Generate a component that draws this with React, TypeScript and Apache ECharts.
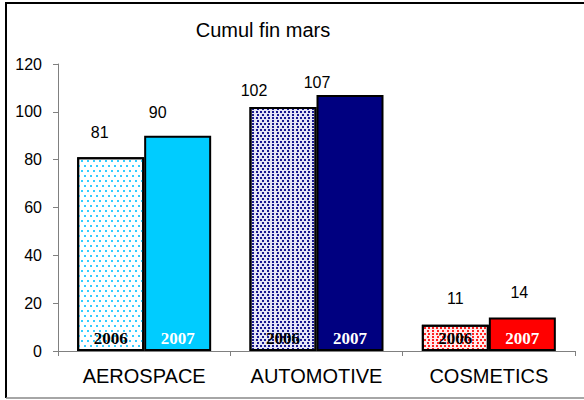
import React, { useEffect, useRef } from "react";
import * as echarts from "echarts";

const categories = ["AEROSPACE", "AUTOMOTIVE", "COSMETICS"];
const values2006 = [81, 102, 11];
const values2007 = [90, 107, 14];
const yearLabels = ["2006", "2007"];
const colors2007 = ["#00ccff", "#000080", "#ff0000"];
const base2006 = ["#ffffff", "#e6e6f6", "#ffeaea"];
const dots2006 = ["#33ccff", "#1a1a90", "#ff2020"];
const labelOffsets2006 = [[-11, -12], [-29, -4], [0, -13]];
const labelOffsets2007 = [[-20, -10], [-33, 0], [-3, -12]];

function decalFor(i: number, color: string) {
  if (i === 0) {
    return {
      symbol: "rect",
      symbolSize: 1,
      color,
      dashArrayX: [[1.5, 3.5], [0, 2.5, 1.5, 1]],
      dashArrayY: [1.5, 2.8],
    };
  }
  return {
    symbol: "rect",
    symbolSize: 1,
    color,
    dashArrayX: [[1.2, 1.8], [0, 1.5, 1.2, 0.3]],
    dashArrayY: [1.2, 0.8],
  };
}

export default function App() {
  const ref = useRef<HTMLDivElement>(null);
  useEffect(() => {
    if (!ref.current) return;
    const chart = echarts.init(ref.current, undefined, { renderer: "svg" });
    const barBase = {
      type: "bar",
      barWidth: 67,
      barGap: "0%",
    };
    chart.setOption({
      animation: false,
      backgroundColor: "#ffffff",
      grid: { left: 58, right: 9, top: 64, bottom: 49 },
      graphic: [
        {
          type: "text",
          x: 263,
          y: 30,
          style: {
            text: "Cumul fin mars",
            fontFamily: "Liberation Sans, Arial, sans-serif",
            fontSize: 20,
            fill: "#000",
            textAlign: "center",
            textVerticalAlign: "middle",
          },
        },
        { type: "line", shape: { x1: 6, y1: 3, x2: 584, y2: 3 }, style: { stroke: "#000", lineWidth: 2 } },
        { type: "line", shape: { x1: 6, y1: 2, x2: 6, y2: 398 }, style: { stroke: "#000", lineWidth: 2 } },
        { type: "line", shape: { x1: 6, y1: 398, x2: 584, y2: 398 }, style: { stroke: "#888", lineWidth: 1.5 } },
      ],
      xAxis: [
        {
          type: "category",
          data: categories,
          axisLine: { lineStyle: { color: "#808080", width: 1 } },
          axisTick: { show: true, length: 5, lineStyle: { color: "#808080" } },
          axisLabel: {
            color: "#000",
            fontSize: 20,
            fontFamily: "Liberation Sans, Arial, sans-serif",
            margin: 15,
          },
        },
        { type: "category", data: categories, show: false },
      ],
      yAxis: {
        type: "value",
        min: 0,
        max: 120,
        interval: 20,
        axisLine: { show: true, lineStyle: { color: "#808080", width: 1 } },
        axisTick: { show: true, length: 5, lineStyle: { color: "#808080" } },
        splitLine: { show: false },
        axisLabel: {
          color: "#000",
          fontSize: 16,
          fontFamily: "Liberation Sans, Arial, sans-serif",
          margin: 16,
        },
      },
      series: [
        {
          ...barBase,
          name: yearLabels[0],
          xAxisIndex: 0,
          data: values2006.map((v, i) => ({
            value: v,
            itemStyle: {
              color: base2006[i],
              borderColor: "#000",
              borderWidth: 2,
              decal: decalFor(i, dots2006[i]),
            },
          })),
          label: {
            show: true,
            position: "insideBottom",
            distance: 4,
            formatter: yearLabels[0],
            color: "#000",
            fontSize: 17,
            fontWeight: "bold",
            fontFamily: "Liberation Serif, Times New Roman, serif",
          },
        },
        {
          ...barBase,
          name: yearLabels[1],
          xAxisIndex: 0,
          data: values2007.map((v, i) => ({
            value: v,
            itemStyle: { color: colors2007[i], borderColor: "#000", borderWidth: 2 },
          })),
          label: {
            show: true,
            position: "insideBottom",
            distance: 4,
            formatter: yearLabels[1],
            color: "#fff",
            fontSize: 17,
            fontWeight: "bold",
            fontFamily: "Liberation Serif, Times New Roman, serif",
          },
        },
        {
          ...barBase,
          name: yearLabels[0] + " value",
          xAxisIndex: 1,
          silent: true,
          itemStyle: { color: "rgba(0,0,0,0)" },
          data: values2006.map((v, i) => ({
            value: v,
            label: { offset: labelOffsets2006[i] },
          })),
          label: {
            show: true,
            position: "top",
            distance: 5,
            color: "#000",
            fontSize: 16,
            fontFamily: "Liberation Sans, Arial, sans-serif",
          },
        },
        {
          ...barBase,
          name: yearLabels[1] + " value",
          xAxisIndex: 1,
          silent: true,
          itemStyle: { color: "rgba(0,0,0,0)" },
          data: values2007.map((v, i) => ({
            value: v,
            label: { offset: labelOffsets2007[i] },
          })),
          label: {
            show: true,
            position: "top",
            distance: 5,
            color: "#000",
            fontSize: 16,
            fontFamily: "Liberation Sans, Arial, sans-serif",
          },
        },
      ],
    });
    return () => chart.dispose();
  }, []);
  return <div ref={ref} style={{ width: 584, height: 400, position: "absolute", left: 0, top: 0 }} />;
}
